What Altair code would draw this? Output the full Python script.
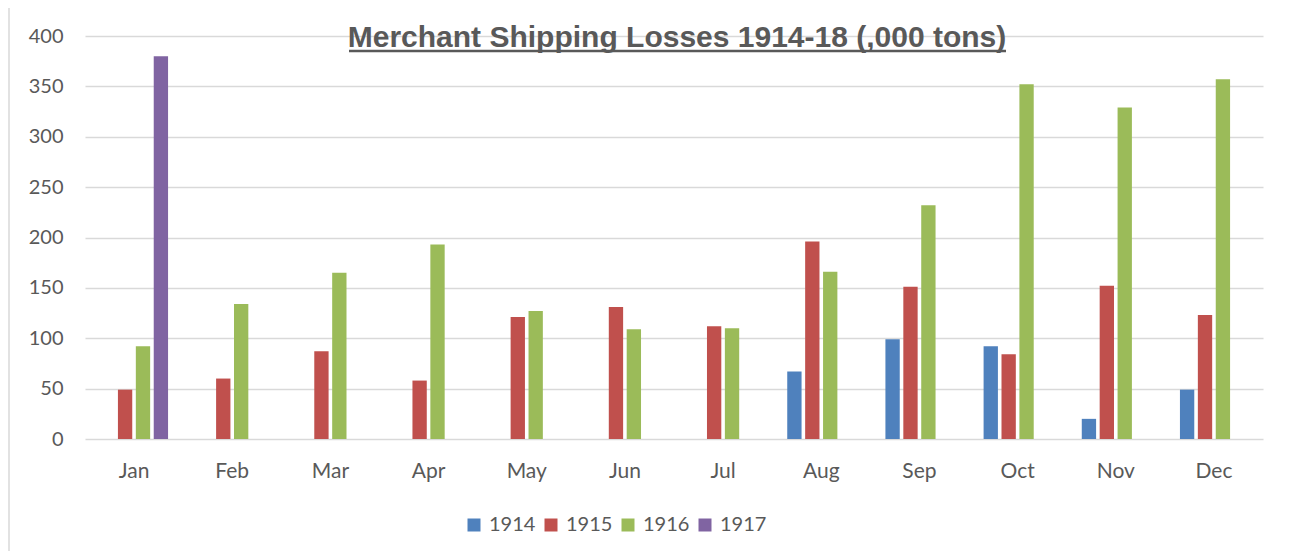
import altair as alt
import pandas as pd

months = ["Jan", "Feb", "Mar", "Apr", "May", "Jun", "Jul", "Aug", "Sep", "Oct", "Nov", "Dec"]
years = ["1914", "1915", "1916", "1917"]
colors = ["#4F81BD", "#C0504D", "#9BBB59", "#8064A2"]

# values in thousand tons (None = no bar)
v1914 = [None, None, None, None, None, None, None, 67, 99, 92, 20, 49]
v1915 = [49, 60, 87, 58, 121, 131, 112, 196, 151, 84, 152, 123]
v1916 = [92, 134, 165, 193, 127, 109, 110, 166, 232, 352, 329, 357]
v1917 = [380, None, None, None, None, None, None, None, None, None, None, None]

title_text = "Merchant Shipping Losses 1914-18 (,000 tons)"
y_ticks = [0, 50, 100, 150, 200, 250, 300, 350, 400]

rows = []
for yr, vals in zip(years, [v1914, v1915, v1916, v1917]):
    for m, v in zip(months, vals):
        if v is not None:
            rows.append({"Month": m, "Year": yr, "Tons": v})
df = pd.DataFrame(rows)

W, H = 1178, 403
FONT = "Lato"
GREY = "#595959"

bars = alt.Chart(df).mark_bar().encode(
    x=alt.X("Month:N", sort=months,
            scale=alt.Scale(domain=months, paddingInner=0.307, paddingOuter=0.153),
            axis=alt.Axis(title=None, labelAngle=0, domain=False, ticks=False,
                          labelPadding=21, labelFontSize=21, labelColor=GREY,
                          labelFont=FONT, grid=False)),
    xOffset=alt.XOffset("Year:N", scale=alt.Scale(domain=years, paddingInner=0.2, paddingOuter=0)),
    y=alt.Y("Tons:Q", scale=alt.Scale(domain=[0, 400], nice=False),
            axis=alt.Axis(title=None, values=y_ticks, domain=False, ticks=False,
                          labelPadding=22, labelFontSize=20, labelColor=GREY,
                          labelFont=FONT, gridColor="#D9D9D9", gridWidth=1.5)),
    color=alt.Color("Year:N", scale=alt.Scale(domain=years, range=colors),
                    legend=alt.Legend(title=None, orient="none", direction="horizontal",
                                      legendX=379, legendY=479, symbolType="square",
                                      symbolSize=169, symbolStrokeWidth=0,
                                      labelFontSize=20, labelFont=FONT, labelColor=GREY,
                                      labelOffset=5, columnPadding=5)),
)

title_df = pd.DataFrame({"t": [title_text]})
title = alt.Chart(title_df).mark_text(
    font="Liberation Sans", fontSize=30, fontWeight="bold", color=GREY,
    align="center", baseline="middle"
).encode(text="t:N", x=alt.value(592), y=alt.value(2))

underline = alt.Chart(title_df).mark_rule(color=GREY, strokeWidth=2.5).encode(
    x=alt.value(264), x2=alt.value(921), y=alt.value(15)
)

frame = alt.Chart(title_df).mark_rect(fill="transparent", stroke="#D9D9D9", strokeWidth=1.5).encode(
    x=alt.value(-76), x2=alt.value(1300), y=alt.value(-29), y2=alt.value(700)
)

chart = alt.layer(frame, bars, title, underline).properties(
    width=W, height=H,
    autosize=alt.AutoSizeParams(type="none"),
    padding={"left": 77, "top": 28, "right": 20, "bottom": 112},
).configure_view(stroke=None)

chart.save("out.html", embed_options={"renderer": "svg", "actions": False})
